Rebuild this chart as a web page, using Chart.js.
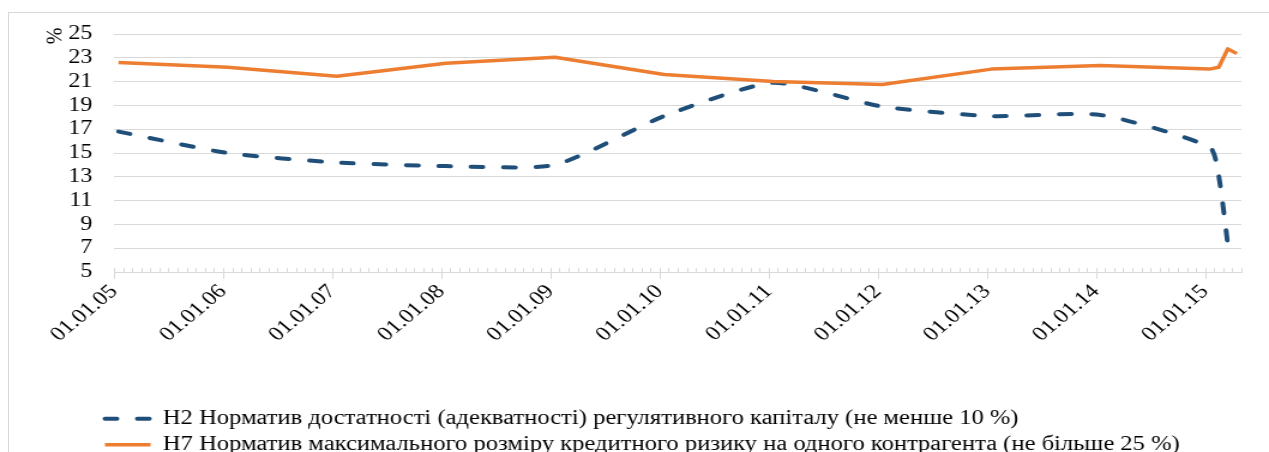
<!DOCTYPE html>
<html>
<head>
<meta charset="utf-8">
<script src="https://cdn.jsdelivr.net/npm/chart.js@4.4.1/dist/chart.umd.min.js"></script>
<style>
html,body{margin:0;padding:0;background:#fff;overflow:hidden;width:1269px;height:452px;}
#wrap{position:relative;width:1269px;height:452px;overflow:hidden;background:#fff;}
#frame{position:absolute;left:8px;top:12px;width:1400px;height:600px;border:1px solid #d9d9d9;box-sizing:border-box;}
#stretch{position:absolute;left:0;top:0;width:1058px;height:452px;transform:scaleX(1.19943);transform-origin:0 0;}
#c{position:absolute;left:0;top:0;}
#pct{position:absolute;left:34px;top:26px;width:20px;height:20px;line-height:20px;text-align:center;
  font-family:'Liberation Serif';font-size:20px;color:#000;transform:rotate(-90deg);}
</style>
</head>
<body>
<div id="wrap">
  <div id="frame"></div>
  <div id="stretch">
    <canvas id="c" width="1058" height="452"></canvas>
    <div id="pct">%</div>
  </div>
</div>
<script>
// ---- data ----
const categories = ['01.01.05','01.01.06','01.01.07','01.01.08','01.01.09','01.01.10','01.01.11','01.01.12','01.01.13','01.01.14','01.01.15','01.02.15','01.03.15','01.04.15'];
const monthIndex = [0,12,24,36,48,60,72,84,96,108,120,121,122,123];
const h2Values = [16.8,15.0,14.2,13.9,14.0,18.1,20.9,18.9,18.1,18.2,15.5,13.1,7.35,null];
const h7Values = [22.6,22.2,21.45,22.55,23.05,21.6,21.0,20.75,22.05,22.35,22.05,22.2,23.75,23.35];
const seriesNames = [
  'Н2 Норматив достатності (адекватності) регулятивного капіталу (не менше 10 %)',
  'Н7 Норматив максимального розміру кредитного ризику на одного контрагента (не більше 25 %)'
];
const yTickValues = [5,7,9,11,13,15,17,19,21,23,25];
const xTickMonths = [0,12,24,36,48,60,72,84,96,108,120];
const xTickLabels = ['01.01.05','01.01.06','01.01.07','01.01.08','01.01.09','01.01.10','01.01.11','01.01.12','01.01.13','01.01.14','01.01.15'];
const axisEndMonth = 124;

const FONT = "'Liberation Serif'";
const GRID = '#d9d9d9';

function toPoints(vals){
  const pts = [];
  vals.forEach((v,i)=>{ if(v!==null) pts.push({x: monthIndex[i] + 0.5, y: v}); });
  return pts;
}

const tickPlugin = {
  id: 'monthTicks',
  afterDraw(chart){
    const xs = chart.scales.x, ctx = chart.ctx;
    const b = Math.round(xs.top);
    ctx.save();
    ctx.strokeStyle = GRID; ctx.lineWidth = 1;
    ctx.beginPath();
    for(let m=0;m<=axisEndMonth;m++){
      const px = Math.round(xs.getPixelForValue(m)) + 0.5;
      if(m % 12 === 0){ ctx.moveTo(px, b-4); ctx.lineTo(px, b+7); }
      else { ctx.moveTo(px, b-4); ctx.lineTo(px, b); }
    }
    ctx.stroke();
    ctx.restore();
  }
};

const legendPlace = {
  id: 'legendPlace',
  afterLayout(chart){
    chart.legend.left = 82;
    chart.legend.top = 403;
  }
};

function build(){
  new Chart(document.getElementById('c'), {
    type: 'line',
    data: {
      datasets: [
        {
          label: seriesNames[0],
          data: toPoints(h2Values),
          borderColor: '#1F4E79',
          backgroundColor: '#1F4E79',
          borderWidth: 4,
          borderDash: [10, 17],
          borderCapStyle: 'round',
          tension: 0.2,
          pointRadius: 0,
          fill: false,
          order: 2
        },
        {
          label: seriesNames[1],
          data: toPoints(h7Values),
          borderColor: '#ED7D31',
          backgroundColor: '#ED7D31',
          borderWidth: 3.5,
          borderCapStyle: 'butt',
          borderJoinStyle: 'round',
          tension: 0,
          pointRadius: 0,
          fill: false,
          order: 1
        }
      ]
    },
    options: {
      responsive: false,
      animation: false,
      devicePixelRatio: 1,
      layout: { padding: { left: 25, right: 23, top: 34, bottom: 0 } },
      plugins: {
        tooltip: { enabled: false },
        legend: {
          position: 'bottom',
          align: 'start',
          labels: {
            usePointStyle: true,
            pointStyle: 'line',
            pointStyleWidth: 38,
            padding: 5.5,
            color: '#000',
            font: { family: FONT, size: 20.5 },
            sort: (a, b) => a.datasetIndex - b.datasetIndex,
            generateLabels: chart => {
              const items = Chart.defaults.plugins.legend.labels.generateLabels(chart);
              return items.map(it => {
                const ds = chart.data.datasets[it.datasetIndex];
                it.lineDash = ds.borderDash || [];
                it.lineWidth = ds.borderWidth;
                it.lineCap = ds.borderCapStyle;
                it.strokeStyle = ds.borderColor;
                it.fillStyle = ds.borderColor;
                return it;
              });
            }
          }
        }
      },
      scales: {
        x: {
          type: 'linear',
          min: 0,
          max: axisEndMonth,
          afterBuildTicks: s => { s.ticks = xTickMonths.map(v => ({ value: v })); },
          afterFit: s => { s.height = 452 - 272 - s.chart.legend.height; },
          grid: { display: true, drawOnChartArea: false, drawTicks: false, color: GRID },
          border: { display: true, color: GRID, width: 1 },
          ticks: {
            autoSkip: false,
            minRotation: 45,
            maxRotation: 45,
            padding: 8,
            color: '#000',
            font: { family: FONT, size: 20 },
            callback: (v, i) => xTickLabels[i]
          }
        },
        y: {
          min: 5,
          max: 25,
          afterBuildTicks: s => { s.ticks = yTickValues.map(v => ({ value: v })); },
          afterFit: s => { s.width = 70; },
          grid: { color: GRID, drawTicks: false, lineWidth: 1 },
          border: { display: false },
          ticks: {
            autoSkip: false,
            padding: 18,
            color: '#000',
            font: { family: FONT, size: 20 }
          }
        }
      }
    },
    plugins: [tickPlugin, legendPlace]
  });
}

const fontLoads = [document.fonts.load("20px 'Liberation Serif'"), document.fonts.load("20px 'Liberation Serif'", "Норматив")];
Promise.all(fontLoads).then(build, build);
</script>
</body>
</html>
